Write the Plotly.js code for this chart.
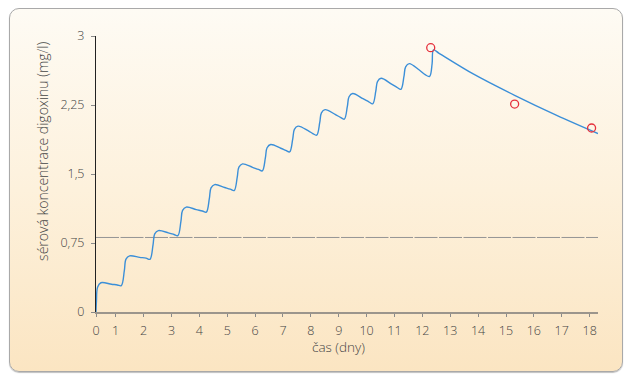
<!DOCTYPE html>
<html>
<head>
<meta charset="utf-8">
<script src="https://cdn.plot.ly/plotly-3.0.1.min.js"></script>
<style>
  html, body { margin:0; padding:0; background:#ffffff; }
  #bg { position:absolute; left:9px; top:8px; width:614px; height:364px; box-sizing:border-box;
        border:1px solid #a9a9a9; border-radius:10px;
        background:linear-gradient(to bottom, #fefbf4 0%, #fdf1dc 50%, #fbe5c2 100%);
        box-shadow:0 1px 1px rgba(0,0,0,0.25); }
  #chart { position:absolute; left:0; top:0; width:629px; height:376px; }
</style>
</head>
<body>
<div id="bg"></div>
<div id="chart"></div>
<script>
// Modelled serum concentration curve
const curveDays = [
  0.294, 0.31, 0.35, 0.47, 0.85,
  1.06, 1.20, 1.31, 1.37, 1.50, 1.86,
  2.09, 2.23, 2.34, 2.40, 2.53, 2.89,
  3.09, 3.23, 3.34, 3.40, 3.53, 3.89,
  4.11, 4.25, 4.36, 4.42, 4.55, 4.91,
  5.11, 5.25, 5.36, 5.42, 5.55, 5.91,
  6.12, 6.26, 6.37, 6.43, 6.56, 6.92,
  7.10, 7.24, 7.35, 7.41, 7.54, 7.90,
  8.07, 8.21, 8.32, 8.38, 8.51, 8.87,
  9.06, 9.20, 9.31, 9.37, 9.50, 9.87,
  10.08, 10.22, 10.33, 10.39, 10.52, 10.88,
  11.09, 11.23, 11.34, 11.40, 11.53, 11.89,
  12.10, 12.26, 12.35, 12.40, 12.60, 13.84, 15.31, 16.80, 18.30
];
const curveConc = [
  0.00, 0.12, 0.27, 0.318, 0.302,
  0.294, 0.286, 0.45, 0.575, 0.61, 0.594,
  0.585, 0.573, 0.73, 0.85, 0.885, 0.86,
  0.842, 0.83, 0.985, 1.105, 1.14, 1.113,
  1.098, 1.085, 1.235, 1.35, 1.385, 1.353,
  1.335, 1.32, 1.465, 1.575, 1.61, 1.572,
  1.55, 1.534, 1.677, 1.785, 1.82, 1.78,
  1.757, 1.74, 1.88, 1.985, 2.02, 1.971,
  1.94, 1.922, 2.06, 2.165, 2.20, 2.148,
  2.116, 2.096, 2.235, 2.34, 2.375, 2.318,
  2.284, 2.263, 2.40, 2.505, 2.54, 2.48,
  2.442, 2.42, 2.56, 2.665, 2.70, 2.63,
  2.58, 2.561, 2.70, 2.848, 2.812, 2.585, 2.355, 2.14, 1.94
];
// Measured concentrations (red circles)
const measuredDays = [12.30, 15.31, 18.07];
const measuredConc = [2.873, 2.26, 2.00];
// Threshold level (dashed line)
const thresholdLevel = [0.81];
// Tick labels
const xTickVals = [0.294, 1, 2, 3, 4, 5, 6, 7, 8, 9, 10, 11, 12, 13, 14, 15, 16, 17, 18];
const xTickText = ['0','1','2','3','4','5','6','7','8','9','10','11','12','13','14','15','16','17','18'];
const yTickVals = [0, 0.75, 1.5, 2.25, 3];
const yTickText = ['0', '0,75', '1,5', '2,25', '3'];
const xTitle = 'čas (dny)';
const yTitle = 'sérová koncentrace digoxinu (mg/l)';

const fontFam = '"Open Sans", "DejaVu Sans", sans-serif';

const traces = [
  {
    x: curveDays, y: curveConc, type: 'scatter', mode: 'lines',
    line: { color: '#3b8fd8', width: 1.4, shape: 'spline', smoothing: 1 },
    hoverinfo: 'skip', showlegend: false
  },
  {
    x: measuredDays, y: measuredConc, type: 'scatter', mode: 'markers',
    marker: { symbol: 'circle-open', size: 8, color: '#e5303c', line: { width: 1.3, color: '#e5303c' } },
    showlegend: false
  }
];

const layout = {
  width: 629, height: 376,
  margin: { l: 96, r: 31, t: 36, b: 64, pad: 0 },
  paper_bgcolor: 'rgba(0,0,0,0)',
  plot_bgcolor: 'rgba(0,0,0,0)',
  font: { family: fontFam, size: 12, color: '#444' },
  showlegend: false,
  xaxis: {
    range: [0.294, 18.30], tickmode: 'array', tickvals: xTickVals, ticktext: xTickText,
    ticks: 'outside', ticklen: 3, tickwidth: 1, tickcolor: '#8a8a8a',
    showline: true, linecolor: '#9b958c', linewidth: 2,
    showgrid: false, zeroline: false, ticklabelstandoff: 3,
    tickfont: { family: fontFam, size: 12.5, color: '#444', weight: 300 }
  },
  yaxis: {
    range: [0, 3], tickmode: 'array', tickvals: yTickVals, ticktext: yTickText,
    ticks: 'outside', ticklen: 4, tickwidth: 1, tickcolor: '#8a8a8a',
    showline: true, linecolor: '#222', linewidth: 1,
    showgrid: false, zeroline: false, ticklabelstandoff: 4,
    tickfont: { family: fontFam, size: 12.5, color: '#444', weight: 300 }
  },
  shapes: [
    {
      type: 'line', xref: 'paper', x0: 0, x1: 1, yref: 'y', y0: thresholdLevel[0], y1: thresholdLevel[0],
      line: { color: '#959595', width: 1, dash: '23px,1.5px' }, layer: 'below'
    }
  ],
  annotations: [
    {
      text: xTitle, xref: 'paper', yref: 'paper', x: 0.484, y: -0.128,
      xanchor: 'center', yanchor: 'middle', showarrow: false,
      font: { family: fontFam, size: 13.5, color: '#444', weight: 300 }
    },
    {
      text: yTitle, xref: 'paper', yref: 'paper', x: -0.108, y: 0.583,
      xanchor: 'center', yanchor: 'middle', showarrow: false, textangle: -90,
      font: { family: fontFam, size: 14, color: '#444', weight: 300 }
    }
  ]
};

Plotly.newPlot('chart', traces, layout, { displayModeBar: false, staticPlot: true });
</script>
</body>
</html>
